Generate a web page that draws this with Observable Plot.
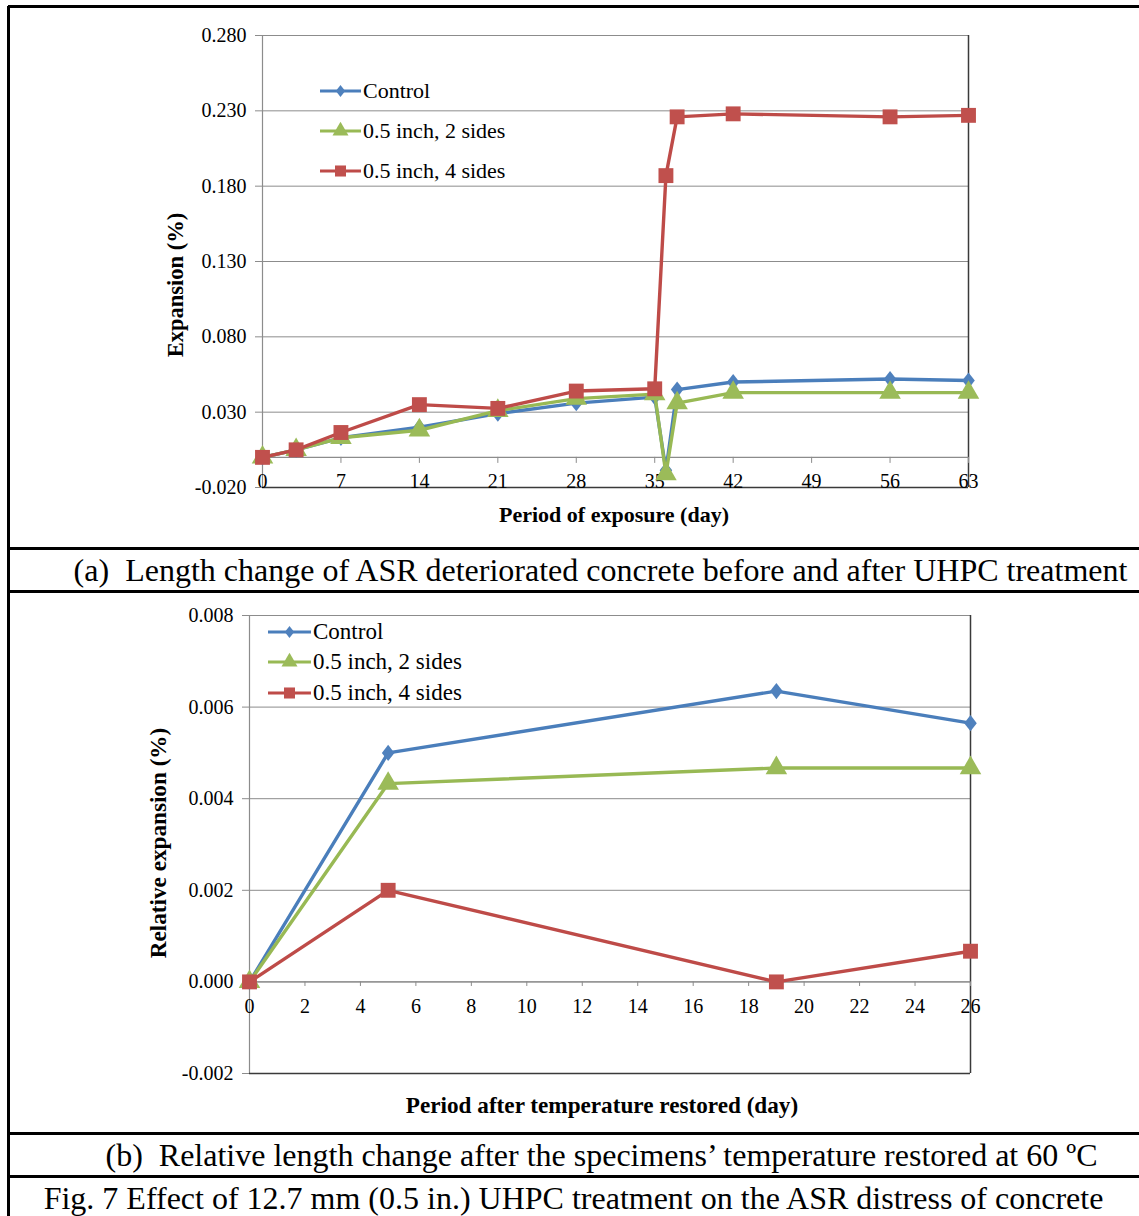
<!DOCTYPE html>
<html>
<head>
<meta charset="utf-8">
<script src="https://cdn.jsdelivr.net/npm/d3@7"></script>
<script src="https://cdn.jsdelivr.net/npm/@observablehq/plot@0.6"></script>
<style>
  body { margin: 0; background: #fff; }
  #page { position: relative; width: 1139px; height: 1216px; overflow: hidden; background: #fff; font-family: "Liberation Serif", "Times New Roman", serif; color: #000; }
  .hline { position: absolute; left: 8px; width: 1131px; height: 2.5px; background: #000; }
  .vline { position: absolute; top: 6px; left: 7px; width: 2.5px; height: 1210px; background: #000; }
  .caption { position: absolute; left: 8px; width: 1131px; text-align: center; font-size: 32px; white-space: pre; line-height: 1; }
  .ytitle { position: absolute; font-weight: bold; transform: translate(-50%, -50%) rotate(-90deg); white-space: nowrap; }
  .xtitle { position: absolute; font-weight: bold; transform: translate(-50%, -50%); white-space: nowrap; }
  .legend-item { position: absolute; display: flex; align-items: center; white-space: nowrap; }
  .legend-item svg { display: block; }
</style>
</head>
<body>
<div id="page"></div>
<script>
// ---------- Data: panel (a) ----------
const days1 = [0, 3, 7, 14, 21, 28, 35, 36, 37, 42, 56, 63];
const control1 = [0, 0.005, 0.013, 0.020, 0.029, 0.036, 0.040, -0.0086, 0.045, 0.050, 0.052, 0.051];
const twoSides1 = [0, 0.005, 0.013, 0.018, 0.031, 0.039, 0.042, -0.011, 0.036, 0.043, 0.043, 0.043];
const fourSides1 = [0, 0.005, 0.0165, 0.035, 0.0325, 0.044, 0.0455, 0.187, 0.226, 0.228, 0.226, 0.227];
const xTicks1 = [0, 7, 14, 21, 28, 35, 42, 49, 56, 63];
const yTicks1 = [-0.02, 0.03, 0.08, 0.13, 0.18, 0.23, 0.28];

// ---------- Data: panel (b) ----------
const days2 = [0, 5, 19, 26];
const control2 = [0, 0.0050, 0.00635, 0.00565];
const twoSides2 = [0, 0.00433, 0.00467, 0.00467];
const fourSides2 = [0, 0.0020, 0.0000, 0.00067];
const xTicks2 = [0, 2, 4, 6, 8, 10, 12, 14, 16, 18, 20, 22, 24, 26];
const yTicks2 = [-0.002, 0, 0.002, 0.004, 0.006, 0.008];

const seriesNames = ["Control", "0.5 inch, 2 sides", "0.5 inch, 4 sides"];
const lineColors = ["#4A7EBB", "#98B954", "#BE4B48"];
const markerColors = ["#4F81BD", "#9BBB59", "#C0504D"];
const symbolR = [7.4, 8, 8.4];

// Excel-like wide diamond
const wideDiamond = {
  draw(context, size) {
    const r = Math.sqrt(size / Math.PI);
    const hh = r * 1.1, hw = r * 0.85;
    context.moveTo(0, -hh);
    context.lineTo(hw, 0);
    context.lineTo(0, hh);
    context.lineTo(-hw, 0);
    context.closePath();
  }
};
const symbols = [wideDiamond, d3.symbolTriangle, d3.symbolSquare];

const captionA = "(a)  Length change of ASR deteriorated concrete before and after UHPC treatment";
const captionB = "(b)  Relative length change after the specimens\u2019 temperature restored at 60 \u00BAC";
const captionFig = "Fig. 7 Effect of 12.7 mm (0.5 in.) UHPC treatment on the ASR distress of concrete";

const page = document.getElementById("page");
const GRID = "#8c8c8c";
const DARK = "#3a3a3a";
const FONT = "Liberation Serif, Times New Roman, serif";

function tidy(days, arrays) {
  const out = [];
  arrays.forEach((arr, s) => days.forEach((d, i) => out.push({day: d, value: arr[i], series: s})));
  return out;
}

function seriesMarks(data) {
  const marks = [];
  for (let s = 0; s < 3; s++) {
    const sub = data.filter(d => d.series === s);
    marks.push(Plot.line(sub, {x: "day", y: "value", stroke: lineColors[s], strokeWidth: 3.4, curve: "linear"}));
    marks.push(Plot.dot(sub, {x: "day", y: "value", symbol: symbols[s], r: symbolR[s], fill: markerColors[s], stroke: "none"}));
  }
  return marks;
}

function makeChart({width, height, margin, xDomain, yDomain, xTicks, yTicks, data, tickLen, labelDy}) {
  return Plot.plot({
    width, height,
    marginLeft: margin[0], marginRight: margin[1], marginTop: margin[2], marginBottom: margin[3],
    style: {fontFamily: FONT, fontSize: "20px", background: "transparent", overflow: "visible"},
    x: {domain: xDomain, axis: null},
    y: {domain: yDomain, axis: null},
    marks: [
      Plot.gridY(yTicks, {stroke: GRID, strokeOpacity: 1, strokeWidth: 1}),
      Plot.ruleX([xDomain[0]], {stroke: GRID, strokeWidth: 1.2}),
      Plot.ruleX([xDomain[1]], {stroke: DARK, strokeWidth: 1.5}),
      Plot.ruleY([yDomain[0]], {stroke: DARK, strokeWidth: 1.5}),
      Plot.ruleY([0], {stroke: GRID, strokeWidth: 1.2}),
      Plot.ruleX(xTicks, {x: d => d, y1: 0, y2: -tickLen, stroke: GRID, strokeWidth: 1}),
      Plot.text(xTicks, {x: d => d, y: 0, text: d => String(d), dy: labelDy, fill: "#000", fontSize: 20}),
      Plot.axisY(yTicks, {tickFormat: d => d.toFixed(3), tickSize: 7, tickPadding: 9, label: null, stroke: GRID, fill: "#000", fontSize: 20}),
      ...seriesMarks(data)
    ]
  });
}

function place(el, left, top) {
  el.style.position = "absolute";
  el.style.left = left + "px";
  el.style.top = top + "px";
  page.appendChild(el);
}

// Panel (a)
const chartA = makeChart({
  width: 1139, height: 548,
  margin: [262, 171, 35, 61],
  xDomain: [0, 63], yDomain: [-0.02, 0.28],
  xTicks: xTicks1, yTicks: yTicks1,
  data: tidy(days1, [control1, twoSides1, fourSides1]),
  tickLen: 0.004, labelDy: 24
});
place(chartA, 0, 0);

// Panel (b)
const chartB = makeChart({
  width: 1139, height: 542,
  margin: [249, 169, 24, 60],
  xDomain: [0, 26], yDomain: [-0.002, 0.008],
  xTicks: xTicks2, yTicks: yTicks2,
  data: tidy(days2, [control2, twoSides2, fourSides2]),
  tickLen: 0.0001, labelDy: 25
});
place(chartB, 0, 591);

// Axis titles
function addText(cls, text, x, y, size) {
  const d = document.createElement("div");
  d.className = cls;
  d.textContent = text;
  d.style.left = x + "px";
  d.style.top = y + "px";
  d.style.fontSize = size + "px";
  page.appendChild(d);
}
addText("ytitle", "Expansion (%)", 176, 285, 22.5);
addText("xtitle", "Period of exposure (day)", 614, 515, 22);
addText("ytitle", "Relative expansion (%)", 158, 843, 23.2);
addText("xtitle", "Period after temperature restored (day)", 602, 1105, 23.2);

// Legends
function legend(ys, lineX0, lineX1, fontSize) {
  seriesNames.forEach((name, s) => {
    const item = document.createElement("div");
    item.className = "legend-item";
    item.style.left = lineX0 + "px";
    item.style.top = (ys[s] - 12) + "px";
    item.style.height = "24px";
    item.style.fontSize = fontSize + "px";
    const w = lineX1 - lineX0;
    const svg = d3.create("svg").attr("width", w).attr("height", 24);
    svg.append("line").attr("x1", 0).attr("x2", w).attr("y1", 12).attr("y2", 12)
      .attr("stroke", lineColors[s]).attr("stroke-width", 3.2);
    svg.append("path").attr("transform", `translate(${w / 2},12)`)
      .attr("d", d3.symbol(symbols[s], symbolR[s] * symbolR[s] * Math.PI * 0.55)())
      .attr("fill", markerColors[s]);
    item.appendChild(svg.node());
    const t = document.createElement("span");
    t.textContent = name;
    t.style.marginLeft = "2px";
    item.appendChild(t);
    page.appendChild(item);
  });
}
legend([91, 131, 171], 320, 361, 22);
legend([632, 662, 693], 268, 311, 23);

// Captions
function caption(text, top, shift) {
  const d = document.createElement("div");
  d.className = "caption";
  d.textContent = text;
  d.style.top = top + "px";
  d.style.left = (8 + shift) + "px";
  page.appendChild(d);
}
caption(captionA, 554, 27);
caption(captionB, 1139, 28);
caption(captionFig, 1182, 0);

// Table borders
[6, 548, 591, 1133, 1176].forEach(y => {
  const l = document.createElement("div");
  l.className = "hline";
  l.style.top = (y - 1) + "px";
  page.appendChild(l);
});
const v = document.createElement("div");
v.className = "vline";
page.appendChild(v);
</script>
</body>
</html>
